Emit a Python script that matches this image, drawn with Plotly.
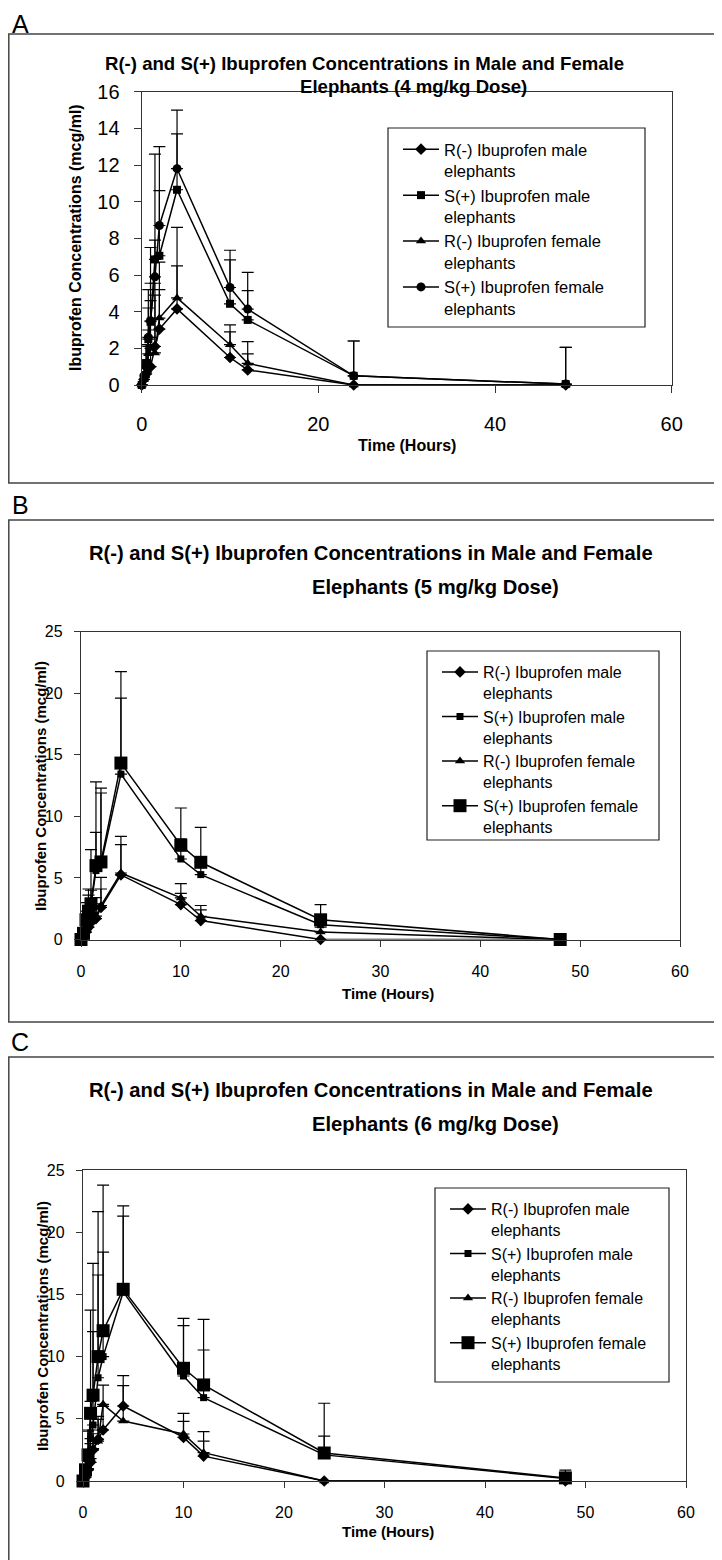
import plotly.graph_objects as go

# page body has an 8px margin: the figure is placed at (8, 8) in the 722x1560 window
OX, OY = 8, 8
W, H = 714, 1552

# ---------------- data ----------------
times = [0, 0.25, 0.5, 0.75, 1, 1.5, 2, 4, 10, 12, 24, 48]

series_names = [
    "R(-) Ibuprofen male<br>elephants",
    "S(+) Ibuprofen male<br>elephants",
    "R(-) Ibuprofen female<br>elephants",
    "S(+) Ibuprofen female<br>elephants",
]

# Panel A (4 mg/kg)
rm_A = [0, 0.3, 0.6, 0.9, 1.0, 2.1, 3.05, 4.15, 1.5, 0.82, 0, 0]
sm_A = [0, 0.4, 1.2, 2.5, 3.45, 6.85, 7.05, 10.65, 4.43, 3.55, 0.5, 0.05]
rf_A = [0, 0.3, 0.7, 1.7, 2.0, 1.75, 3.65, 4.75, 2.2, 1.18, 0, 0]
sf_A = [0, 0.5, 1.0, 2.6, 3.5, 5.9, 8.7, 11.8, 5.32, 4.14, 0.5, 0.05]
rm_A_sd = [0, 0.2, 0.5, 1.2, 1.6, 2.8, 2.15, 2.35, 1.4, 0.88, 0, 0]
sm_A_sd = [0, 0.3, 1.0, 1.7, 2.1, 1.05, 3.55, 3.05, 2.4, 1.6, 1.9, 2.0]
rf_A_sd = [0, 0.2, 0.6, 1.3, 2.6, 3.8, 3.05, 3.85, 1.08, 1.19, 0, 0]
sf_A_sd = [0, 0.4, 1.2, 2.6, 4.0, 6.7, 4.3, 3.2, 2.03, 2.0, 1.9, 2.0]

# Panel B (5 mg/kg)
rm_B = [0, 0.2, 0.6, 1.0, 1.4, 1.7, 2.6, 5.25, 2.84, 1.54, 0, 0]
sm_B = [0, 0.4, 1.3, 2.0, 2.8, 5.6, 6.1, 13.43, 6.54, 5.27, 1.2, 0]
rf_B = [0, 0.3, 0.8, 1.2, 1.6, 1.9, 2.75, 5.4, 3.38, 1.89, 0.6, 0]
sf_B = [0, 0.5, 1.6, 2.3, 2.9, 6.0, 6.3, 14.33, 7.65, 6.27, 1.6, 0]
rm_B_sd = [0, 0.2, 0.5, 0.8, 1.0, 1.2, 1.5, 2.45, 0.9, 0.86, 0, 0]
sm_B_sd = [0, 0.4, 1.0, 1.6, 1.2, 3.1, 5.8, 6.17, 1.63, 1.0, 0.5, 0]
rf_B_sd = [0, 0.3, 0.6, 1.0, 1.2, 1.5, 2.3, 2.98, 1.16, 0.87, 0.4, 0]
sf_B_sd = [0, 0.5, 1.4, 1.8, 4.4, 6.8, 6.0, 7.43, 3.03, 2.83, 1.24, 0]

# Panel C (6 mg/kg)
rm_C = [0, 0.3, 0.9, 1.5, 2.5, 3.35, 4.1, 6.03, 3.5, 2.0, 0, 0]
sm_C = [0, 0.8, 2.0, 3.4, 4.5, 8.3, 10.0, 15.2, 8.44, 6.7, 2.1, 0.2]
rf_C = [0, 0.4, 1.0, 1.8, 2.6, 3.2, 6.16, 4.82, 3.78, 2.28, 0, 0]
sf_C = [0, 0.9, 2.1, 5.44, 6.9, 10.0, 12.08, 15.41, 9.06, 7.72, 2.25, 0.25]
rm_C_sd = [0, 0.3, 0.7, 1.0, 1.3, 1.6, 1.9, 2.44, 1.94, 1.97, 0, 0]
sm_C_sd = [0, 0.8, 2.0, 3.0, 7.5, 8.26, 8.4, 6.1, 4.05, 3.83, 1.5, 0.3]
rf_C_sd = [0, 0.3, 0.8, 1.2, 1.5, 2.0, 1.54, 2.84, 1.02, 0.92, 0, 0]
sf_C_sd = [0, 1.0, 2.0, 8.3, 10.6, 11.65, 11.7, 6.7, 4.02, 5.28, 4.0, 0.63]

panel_labels = ["A", "B", "C"]
doses = ["4 mg/kg Dose", "5 mg/kg Dose", "6 mg/kg Dose"]
title_line1 = "R(-) and S(+) Ibuprofen Concentrations in Male and Female"
x_title = "Time (Hours)"
y_title = "Ibuprofen Concentrations (mcg/ml)"

# ---------------- layout helpers ----------------
FONT = "Liberation Sans, Arial, sans-serif"


def fx(x):
    return (x - OX) / W


def fy(y):
    return 1 - (y - OY) / H


panels = [
    dict(vals=[rm_A, sm_A, rf_A, sf_A], sds=[rm_A_sd, sm_A_sd, rf_A_sd, sf_A_sd],
         plot=(141.7, 91.7, 671.7, 385), ymax=16, ydt=2, xdt=20, tickfont=20,
         ticklen=7, xstand=14, ystand=10,
         symbols=["diamond", "square", "triangle-up", "circle"], sizes=[9, 8, 9, 9],
         box=(8.8, 34, 719, 483), label=(20, 9.5), t1=(364, 64), t2=(413, 86), tfont=18.6,
         xt=(407, 445), yt=(75, 238), atfont=16, legfont=16.5,
         leg=(388, 128, 645, 327)),
    dict(vals=[rm_B, sm_B, rf_B, sf_B], sds=[rm_B_sd, sm_B_sd, rf_B_sd, sf_B_sd],
         plot=(81, 631.7, 680, 939.5), ymax=25, ydt=5, xdt=10, tickfont=16,
         ticklen=6, xstand=11, ystand=8,
         symbols=["diamond", "square", "triangle-up", "square"], sizes=[9, 7, 9, 13],
         box=(8.8, 520, 720, 1022), label=(20, 490), t1=(371, 553), t2=(435, 587), tfont=20.2,
         xt=(388, 993), yt=(40, 786), atfont=15, legfont=16,
         leg=(427, 651, 659, 840)),
    dict(vals=[rm_C, sm_C, rf_C, sf_C], sds=[rm_C_sd, sm_C_sd, rf_C_sd, sf_C_sd],
         plot=(83, 1170, 686, 1481), ymax=25, ydt=5, xdt=10, tickfont=16,
         ticklen=6, xstand=11, ystand=8,
         symbols=["diamond", "square", "triangle-up", "square"], sizes=[9, 7, 9, 13],
         box=(8.8, 1057, 720, 1575), label=(20, 1027), t1=(371, 1090), t2=(435, 1124), tfont=20.2,
         xt=(388, 1531), yt=(42, 1326), atfont=15, legfont=16,
         leg=(435, 1188, 669, 1382)),
]

fig = go.Figure()
shapes = []
annotations = []
layout_axes = {}


def add_text(text, x, y, size, angle=0, yanchor="middle"):
    annotations.append(dict(text=text, x=fx(x), y=fy(y), xref="paper", yref="paper",
                            xanchor="center", yanchor=yanchor, showarrow=False,
                            textangle=angle, borderpad=0,
                            font=dict(family=FONT, size=size, color="black")))


for i, p in enumerate(panels):
    sfx = "" if i == 0 else str(i + 1)
    xa, ya = "x" + sfx, "y" + sfx
    leg = "legend" + sfx
    x0, y0, x1, y1 = p["plot"]
    for k in range(4):
        err = [v if v > 0 else None for v in p["sds"][k]]
        fig.add_trace(go.Scatter(
            x=times, y=p["vals"][k], mode="lines+markers", name=series_names[k],
            xaxis=xa, yaxis=ya, legend=leg, cliponaxis=False,
            line=dict(color="black", width=1.5),
            marker=dict(symbol=p["symbols"][k], size=p["sizes"][k], color="black",
                        line=dict(width=0)),
            error_y=dict(type="data", array=err, arrayminus=[0] * len(times),
                         symmetric=False, color="black", thickness=1.2, width=6),
        ))
    axis_common = dict(showline=True, linecolor="#333", linewidth=1.3, mirror=True,
                       ticks="outside", ticklen=p["ticklen"], tickcolor="#333", tickwidth=1.2,
                       showgrid=False, zeroline=False, automargin=False,
                       tickfont=dict(family=FONT, size=p["tickfont"], color="black"))
    layout_axes["xaxis" + sfx] = dict(axis_common, domain=[fx(x0), fx(x1)], range=[0, 60],
                                      dtick=p["xdt"], tick0=0, anchor=ya,
                                      ticklabelstandoff=p["xstand"])
    layout_axes["yaxis" + sfx] = dict(axis_common, domain=[fy(y1), fy(y0)], range=[0, p["ymax"]],
                                      dtick=p["ydt"], tick0=0, anchor=xa,
                                      ticklabelstandoff=p["ystand"])
    lx0, ly0, lx1, ly1 = p["leg"]
    layout_axes[leg] = dict(x=fx(lx0 + 10), y=fy(ly0 + 4), xanchor="left", yanchor="top",
                            bgcolor="rgba(0,0,0,0)", borderwidth=0, valign="top",
                            font=dict(family=FONT, size=p["legfont"], color="black"),
                            tracegroupgap=0, itemwidth=36)
    # legend frame
    shapes.append(dict(type="rect", xref="paper", yref="paper", x0=fx(lx0), x1=fx(lx1),
                       y0=fy(ly1), y1=fy(ly0), line=dict(color="#222", width=1.2),
                       fillcolor="rgba(0,0,0,0)"))
    # panel frame
    bx0, by0, bx1, by1 = p["box"]
    shapes.append(dict(type="rect", xref="paper", yref="paper", x0=fx(bx0), x1=fx(bx1),
                       y0=fy(by1), y1=fy(by0), line=dict(color="#444", width=1.5),
                       fillcolor="rgba(0,0,0,0)", layer="below"))
    # texts
    add_text(panel_labels[i], p["label"][0], p["label"][1], 25, yanchor="top")
    add_text("<b>" + title_line1 + "</b>", p["t1"][0], p["t1"][1], p["tfont"])
    add_text("<b>Elephants (" + doses[i] + ")</b>", p["t2"][0], p["t2"][1], p["tfont"])
    add_text("<b>" + x_title + "</b>", p["xt"][0], p["xt"][1], p["atfont"])
    add_text("<b>" + y_title + "</b>", p["yt"][0], p["yt"][1], p["atfont"], angle=-90)

fig.update_layout(width=W, height=H,
                  margin=dict(l=0, r=0, t=0, b=0, pad=0, autoexpand=False),
                  paper_bgcolor="white", plot_bgcolor="white",
                  shapes=shapes, annotations=annotations, showlegend=True,
                  **layout_axes)

fig.write_html("out.html")
